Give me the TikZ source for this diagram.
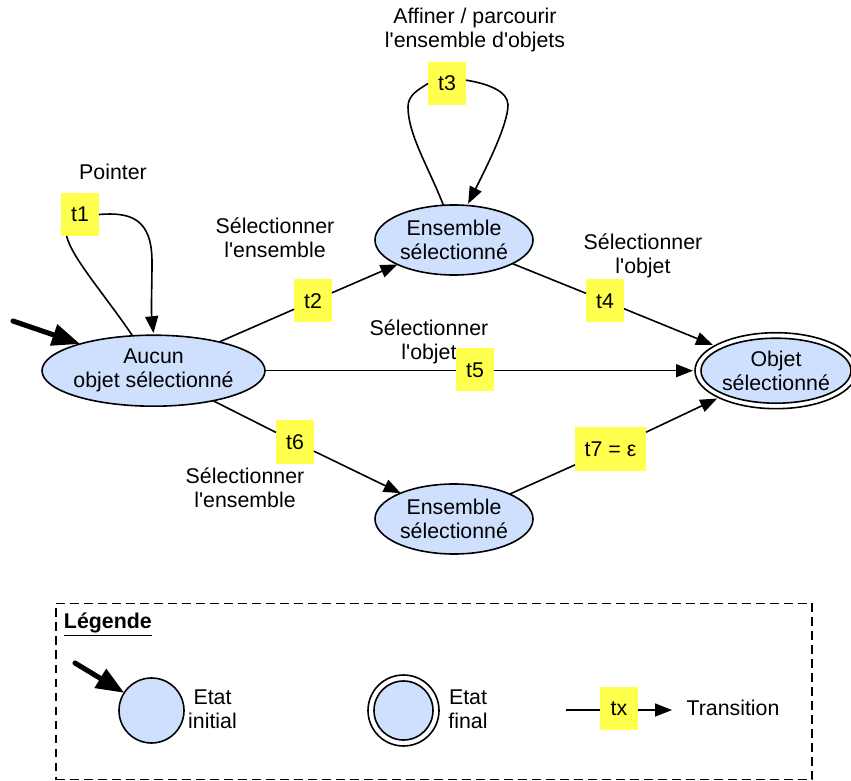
\documentclass[tikz,border=0pt]{standalone}
\usepackage{fontspec}
\newfontfamily\lib{Liberation Sans}
\usetikzlibrary{arrows.meta,shapes.geometric}
\definecolor{stfill}{HTML}{CFE0FF}
\definecolor{lblfill}{HTML}{FFFF4D}
\tikzset{
  base/.style={font=\lib\fontsize{16pt}{18pt}\selectfont,align=center,inner sep=0pt,outer sep=0pt},
  stateell/.style={base,ellipse,draw=black,fill=stfill,line width=1.2pt,inner sep=-14pt},
  lbl/.style={base,rectangle,fill=lblfill,minimum width=28.5pt,minimum height=32.25pt},
  txt/.style={base},
  conn/.style={line width=1.2pt,draw=black},
  arr/.style={conn,-{Triangle[length=12.75pt,width=9.75pt]}},
  thickarr/.style={line width=3.8pt,line cap=round,-{Triangle[length=21pt,width=16pt]}},
}
\begin{document}
\begin{tikzpicture}[x=0.75pt,y=-0.75pt]
\useasboundingbox (0,0) rectangle (851,781);
% labels behind the lines
\node[txt] (lp) at (113,172) {Pointer};
\node[txt] (ls1) at (275,238) {Sélectionner\\l'ensemble};
\node[txt] (la) at (475,29.5) {Affiner / parcourir\\l'ensemble d'objets};
\node[txt] (ls2) at (643,255.5) {Sélectionner\\l'objet};
\node[txt] (ls3) at (429,342) {Sélectionner\\l'objet};
\node[txt] (ls4) at (245,487.5) {Sélectionner\\l'ensemble};
% states
\node[stateell,minimum width=167.25pt,minimum height=53.25pt] (A) at (153.5,370.7) {Aucun\\objet sélectionné};
\node[stateell,minimum width=118.5pt,minimum height=52.5pt] (E1) at (454,240) {Ensemble\\sélectionné};
\node[stateell,minimum width=118.5pt,minimum height=52.5pt] (E2) at (454,519) {Ensemble\\sélectionné};
\node[stateell,fill=white,minimum width=121.5pt,minimum height=57pt] (O) at (776,370.7) {};
\node[stateell,minimum width=112.5pt,minimum height=48.75pt] (Oi) at (776,370.7) {Objet\\sélectionné};
% transition labels
\node[lbl] (t1) at (80,214.5) {t1};
\node[lbl] (t2) at (313,301) {t2};
\node[lbl] (t3) at (447,83.5) {t3};
\node[lbl] (t4) at (605,301) {t4};
\node[lbl] (t5) at (475,370) {t5};
\node[lbl] (t6) at (295,442) {t6};
\node[lbl,minimum width=53.25pt] (t7) at (610.5,449) {t7 = ε};
% connectors
\draw[conn] (t1.238) .. controls (72,258) and (105,295) .. (A.121);
\draw[arr] (t1.east) .. controls (130,212) and (152,218) .. (152,262) .. controls (152,285) and (151,310) .. ([yshift=1.5pt]A.north);
\draw[conn] (E1.107) .. controls (430,170) and (408,135) .. (408,107) .. controls (408,95) and (418,90) .. (t3.west);
\draw[arr,shorten >=1.5pt] (t3.10) .. controls (490,84) and (508,92) .. (508,105) .. controls (508,125) and (485,170) .. (E1.69);
\draw[conn] (A) -- (t2);
\draw[arr] (t2) -- (E1);
\draw[conn] (E1) -- (t4);
\draw[arr,shorten >=1.5pt] (t4) -- (O);
\draw[conn] (A) -- (t5.west |- A);
\draw[arr,shorten >=1.5pt] (t5.east |- A) -- (O);
\draw[conn] (A) -- (t6);
\draw[arr] (t6) -- (E2);
\draw[conn] (E2) -- (t7);
\draw[arr,shorten >=1.5pt] (t7) -- (O);
\coordinate (st) at (13,321);
\draw[thickarr] (st) -- (A.160);
% legend
\node[draw=black,line width=0.9pt,dash pattern=on 6.5pt off 4pt,minimum width=567pt,minimum height=132.5pt,inner sep=0pt,outer sep=0pt] (leg) at (434,691.5) {};
\node[txt,anchor=west,font=\lib\fontsize{16pt}{18pt}\selectfont\bfseries] (lt) at (64,624.5) {\underline{Légende}};
\node[stateell,circle,minimum size=48.75pt] (c1) at (151.5,710.5) {};
\coordinate (st2) at (75,663);
\draw[thickarr] (st2) -- (c1.147);
\node[txt] (ei) at (212.5,709.5) {Etat\\initial};
\node[stateell,circle,fill=white,minimum size=53.25pt] (c2) at (403.5,710.5) {};
\node[stateell,circle,minimum size=44.25pt] (c2i) at (403.5,710.5) {};
\node[txt] (ef) at (468,709.5) {Etat\\final};
\node[lbl] (tx) at (619,708.5) {tx};
\coordinate (ls) at (566,710);
\coordinate (le) at (672,710);
\draw[conn] (ls) -- (tx.west |- ls);
\draw[arr] (tx.east |- le) -- (le);
\node[txt] (tr) at (733,708) {Transition};
\end{tikzpicture}
\end{document}
